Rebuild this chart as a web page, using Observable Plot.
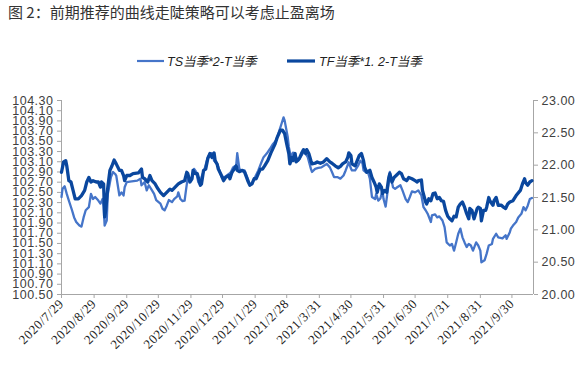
<!DOCTYPE html>
<html><head><meta charset="utf-8">
<script src="https://cdn.jsdelivr.net/npm/d3@7"></script>
<script src="https://cdn.jsdelivr.net/npm/@observablehq/plot@0.6"></script>
<style>
body{margin:0;background:#fff;width:585px;height:365px;position:relative;overflow:hidden;font-family:"Noto Sans CJK SC",sans-serif;}
#title{position:absolute;left:8px;top:1px;font-size:15px;color:#333;white-space:nowrap;}
.leg{position:absolute;top:51px;font-size:12.5px;font-style:italic;color:#222;display:flex;align-items:center;white-space:nowrap;font-family:"Liberation Sans","Noto Sans CJK SC",sans-serif;}
#chart{position:absolute;left:0;top:80px;}
</style></head><body>
<div id="title">图 2：前期推荐的曲线走陡策略可以考虑止盈离场</div>
<div class="leg" style="left:137px"><svg width="27" height="6"><line x1="0" x2="27" y1="3" y2="3" stroke="#4575c9" stroke-width="2.2"/></svg><span style="margin-left:3px">TS当季*2-T当季</span></div>
<div class="leg" style="left:287px"><svg width="28" height="6"><line x1="0" x2="28" y1="3" y2="3" stroke="#0a479e" stroke-width="3.2"/></svg><span style="margin-left:4px">TF当季*1. 2-T当季</span></div>
<div id="chart"></div>
<script>
const seriesNames = ["TS当季*2-T当季", "TF当季*1. 2-T当季"];
const xTickLabels = ["2020/7/29","2020/8/29","2020/9/29","2020/10/29","2020/11/29","2020/12/29","2021/1/29","2021/2/28","2021/3/31","2021/4/30","2021/5/31","2021/6/30","2021/7/31","2021/8/31","2021/9/30"];
const leftTicks = [100.5,100.7,100.9,101.1,101.3,101.5,101.7,101.9,102.1,102.3,102.5,102.7,102.9,103.1,103.3,103.5,103.7,103.9,104.1,104.3];
const rightTicks = [20,20.5,21,21.5,22,22.5,23];

const tsDates = ["2020-07-29","2020-07-30","2020-08-01","2020-08-03","2020-08-05","2020-08-08","2020-08-10","2020-08-12","2020-08-15","2020-08-17","2020-08-19","2020-08-21","2020-08-24","2020-08-26","2020-08-28","2020-08-30","2020-09-02","2020-09-04","2020-09-06","2020-09-07","2020-09-08","2020-09-10","2020-09-11","2020-09-14","2020-09-16","2020-09-18","2020-09-19","2020-09-22","2020-09-24","2020-09-26","2020-09-27","2020-09-29","2020-10-02","2020-10-09","2020-10-12","2020-10-13","2020-10-16","2020-10-18","2020-10-20","2020-10-23","2020-10-25","2020-10-27","2020-10-31","2020-11-02","2020-11-04","2020-11-06","2020-11-08","2020-11-11","2020-11-13","2020-11-16","2020-11-17","2020-11-19","2020-11-21","2020-11-23","2020-11-24","2020-11-26","2020-11-28","2020-11-30","2020-12-02","2020-12-04","2020-12-06","2020-12-08","2020-12-09","2020-12-12","2020-12-15","2020-12-17","2020-12-19","2020-12-21","2020-12-24","2020-12-26","2020-12-28","2020-12-31","2021-01-04","2021-01-06","2021-01-08","2021-01-11","2021-01-12","2021-01-14","2021-01-16","2021-01-19","2021-01-22","2021-01-24","2021-01-26","2021-01-29","2021-02-01","2021-02-04","2021-02-06","2021-02-09","2021-02-12","2021-02-15","2021-02-18","2021-02-21","2021-02-23","2021-02-25","2021-02-26","2021-03-01","2021-03-02","2021-03-04","2021-03-06","2021-03-09","2021-03-11","2021-03-12","2021-03-14","2021-03-16","2021-03-18","2021-03-20","2021-03-23","2021-03-24","2021-03-27","2021-03-30","2021-04-02","2021-04-05","2021-04-07","2021-04-10","2021-04-12","2021-04-14","2021-04-17","2021-04-20","2021-04-23","2021-04-25","2021-04-28","2021-04-30","2021-05-01","2021-05-04","2021-05-07","2021-05-09","2021-05-11","2021-05-12","2021-05-14","2021-05-16","2021-05-18","2021-05-20","2021-05-23","2021-05-24","2021-05-26","2021-05-28","2021-05-30","2021-05-31","2021-06-02","2021-06-04","2021-06-06","2021-06-09","2021-06-11","2021-06-13","2021-06-16","2021-06-18","2021-06-21","2021-06-23","2021-06-25","2021-06-27","2021-06-30","2021-07-03","2021-07-06","2021-07-08","2021-07-10","2021-07-12","2021-07-15","2021-07-16","2021-07-19","2021-07-21","2021-07-23","2021-07-26","2021-07-28","2021-07-30","2021-08-02","2021-08-04","2021-08-06","2021-08-08","2021-08-10","2021-08-12","2021-08-14","2021-08-16","2021-08-18","2021-08-20","2021-08-22","2021-08-24","2021-08-27","2021-08-29","2021-08-31","2021-09-01","2021-09-04","2021-09-06","2021-09-08","2021-09-11","2021-09-12","2021-09-15","2021-09-17","2021-09-19","2021-09-21","2021-09-24","2021-09-25","2021-09-28","2021-09-29","2021-10-01","2021-10-04","2021-10-06","2021-10-09","2021-10-11","2021-10-13","2021-10-15","2021-10-17","2021-10-19"];
const tsValues = [102.41,102.57,102.62,102.47,102.34,102.15,102.01,101.92,101.85,101.83,102.01,102.15,102.21,102.47,102.37,102.41,102.34,102.28,102.37,102.22,101.85,101.95,102.47,102.80,102.90,102.86,102.83,102.44,102.50,102.44,102.60,102.70,102.71,102.73,102.77,102.64,102.70,102.54,102.64,102.54,102.47,102.35,102.28,102.18,102.15,102.24,102.35,102.31,102.37,102.42,102.50,102.37,102.33,102.34,102.50,102.80,102.73,102.80,102.96,102.90,102.70,102.64,102.80,102.96,103.19,103.26,103.27,103.12,103.06,102.93,102.81,102.80,102.86,102.90,102.99,103.03,103.27,102.96,102.93,102.93,102.77,102.65,102.67,102.80,102.93,103.09,103.19,103.26,103.35,103.45,103.52,103.71,103.84,103.97,103.91,103.58,103.39,103.19,103.28,103.19,103.12,103.16,103.22,103.29,103.26,103.19,102.96,102.90,102.96,102.98,102.99,103.03,103.06,102.99,102.90,102.80,102.80,102.77,102.83,102.93,103.09,102.97,102.93,102.93,103.03,103.12,103.07,102.93,102.90,102.91,102.77,102.41,102.37,102.47,102.34,102.38,102.54,102.37,102.22,102.54,102.90,102.60,102.57,102.60,102.64,102.54,102.37,102.31,102.41,102.52,102.50,102.54,102.44,102.21,102.15,102.08,101.92,102.05,102.07,102.01,102.03,101.95,101.82,101.52,101.46,101.49,101.36,101.52,101.69,101.79,101.62,101.52,101.43,101.49,101.46,101.36,101.52,101.46,101.36,101.13,101.17,101.30,101.46,101.49,101.59,101.69,101.62,101.61,101.60,101.66,101.59,101.72,101.79,101.85,101.92,102.01,102.08,102.21,102.15,102.24,102.37,102.39];

const tfDates = ["2020-07-29","2020-07-31","2020-08-02","2020-08-03","2020-08-05","2020-08-07","2020-08-09","2020-08-11","2020-08-14","2020-08-17","2020-08-20","2020-08-22","2020-08-24","2020-08-26","2020-08-28","2020-08-31","2020-09-02","2020-09-04","2020-09-05","2020-09-07","2020-09-08","2020-09-09","2020-09-11","2020-09-13","2020-09-15","2020-09-17","2020-09-19","2020-09-22","2020-09-24","2020-09-26","2020-09-27","2020-09-29","2020-10-02","2020-10-05","2020-10-10","2020-10-13","2020-10-14","2020-10-16","2020-10-19","2020-10-21","2020-10-23","2020-10-26","2020-10-28","2020-10-31","2020-11-03","2020-11-06","2020-11-09","2020-11-11","2020-11-14","2020-11-17","2020-11-20","2020-11-23","2020-11-25","2020-11-26","2020-11-28","2020-11-30","2020-12-01","2020-12-03","2020-12-05","2020-12-08","2020-12-09","2020-12-11","2020-12-13","2020-12-15","2020-12-17","2020-12-19","2020-12-21","2020-12-22","2020-12-24","2020-12-25","2020-12-28","2020-12-30","2021-01-01","2021-01-04","2021-01-05","2021-01-07","2021-01-09","2021-01-11","2021-01-12","2021-01-14","2021-01-17","2021-01-19","2021-01-22","2021-01-24","2021-01-26","2021-01-28","2021-01-30","2021-02-01","2021-02-03","2021-02-05","2021-02-07","2021-02-10","2021-02-13","2021-02-17","2021-02-19","2021-02-22","2021-02-24","2021-02-26","2021-02-28","2021-03-02","2021-03-03","2021-03-05","2021-03-06","2021-03-08","2021-03-09","2021-03-12","2021-03-14","2021-03-16","2021-03-18","2021-03-19","2021-03-21","2021-03-23","2021-03-24","2021-03-27","2021-03-29","2021-04-01","2021-04-04","2021-04-07","2021-04-10","2021-04-12","2021-04-15","2021-04-18","2021-04-20","2021-04-22","2021-04-25","2021-04-27","2021-04-28","2021-04-30","2021-05-01","2021-05-04","2021-05-06","2021-05-08","2021-05-10","2021-05-12","2021-05-13","2021-05-15","2021-05-18","2021-05-20","2021-05-22","2021-05-24","2021-05-25","2021-05-27","2021-05-29","2021-05-30","2021-06-01","2021-06-03","2021-06-05","2021-06-06","2021-06-08","2021-06-10","2021-06-12","2021-06-15","2021-06-17","2021-06-19","2021-06-22","2021-06-24","2021-06-27","2021-06-30","2021-07-02","2021-07-03","2021-07-06","2021-07-07","2021-07-10","2021-07-11","2021-07-13","2021-07-15","2021-07-17","2021-07-19","2021-07-21","2021-07-23","2021-07-25","2021-07-27","2021-07-29","2021-07-31","2021-08-02","2021-08-04","2021-08-06","2021-08-08","2021-08-10","2021-08-12","2021-08-14","2021-08-16","2021-08-18","2021-08-20","2021-08-21","2021-08-23","2021-08-25","2021-08-28","2021-08-29","2021-08-31","2021-09-01","2021-09-03","2021-09-05","2021-09-06","2021-09-08","2021-09-09","2021-09-12","2021-09-13","2021-09-15","2021-09-17","2021-09-20","2021-09-22","2021-09-24","2021-09-26","2021-09-28","2021-10-01","2021-10-04","2021-10-08","2021-10-10","2021-10-12","2021-10-13","2021-10-15","2021-10-17","2021-10-19"];
const tfValues = [21.89,22.05,22.07,21.99,21.76,21.74,21.61,21.48,21.48,21.53,21.61,21.74,21.81,21.74,21.76,21.74,21.74,21.66,21.74,21.71,21.20,21.30,21.66,21.92,21.99,22.08,22.02,21.92,21.92,21.84,21.76,21.84,21.84,21.87,21.88,21.94,21.81,21.79,21.74,21.84,21.76,21.71,21.65,21.58,21.53,21.58,21.63,21.61,21.66,21.71,21.74,21.76,21.89,21.87,21.74,21.79,21.92,21.87,21.87,21.69,21.71,21.92,21.94,22.10,22.18,22.12,22.19,22.07,22.01,21.94,21.84,21.76,21.81,21.84,21.79,21.89,21.94,21.99,21.92,21.90,21.92,21.89,21.76,21.69,21.71,21.79,21.79,21.87,21.94,21.94,21.99,22.07,22.19,22.33,22.43,22.54,22.54,22.49,22.33,22.18,22.02,22.12,22.07,22.18,22.05,22.10,22.18,22.24,22.18,22.24,22.18,22.07,22.02,22.03,22.05,22.03,22.05,22.10,22.05,22.03,21.99,21.96,21.98,22.02,22.05,22.12,22.19,22.15,22.02,21.99,22.07,22.15,22.18,22.07,21.97,21.89,21.92,21.81,21.74,21.66,21.58,21.71,21.66,21.56,21.61,21.58,21.81,21.87,21.74,21.81,21.84,21.89,21.87,21.79,21.76,21.81,21.79,21.76,21.74,21.76,21.77,21.61,21.43,21.40,21.48,21.45,21.56,21.57,21.48,21.50,21.45,21.44,21.30,21.21,21.17,21.14,21.21,21.20,21.35,21.40,21.43,21.35,21.25,21.17,21.33,21.30,21.17,21.33,21.35,21.33,21.14,21.30,21.30,21.35,21.50,21.45,21.38,21.45,21.50,21.38,21.38,21.35,21.33,21.40,21.43,21.45,21.53,21.61,21.71,21.79,21.73,21.69,21.74,21.76];

const L0 = leftTicks[0], L1 = leftTicks[leftTicks.length-1];
const R0 = rightTicks[0], R1 = rightTicks[rightTicks.length-1];
const toLeft = v => L0 + (v - R0) * (L1 - L0) / (R1 - R0);
const toRight = v => R0 + (v - L0) * (R1 - R0) / (L1 - L0);
const parseISO = s => new Date(s + "T00:00:00Z");
const parseSlash = s => { const [y,m,d] = s.split("/").map(Number); return new Date(Date.UTC(y, m-1, d)); };

const ts = tsDates.map((d,i) => ({date: parseISO(d), v: tsValues[i], s: seriesNames[0]}));
const tf = tfDates.map((d,i) => ({date: parseISO(d), v: toLeft(tfValues[i]), s: seriesNames[1]}));
const xTicks = xTickLabels.map(parseSlash);
const fmtDate = d => `${d.getUTCFullYear()}/${d.getUTCMonth()+1}/${d.getUTCDate()}`;
const xDomain = [parseISO("2020-07-29"), new Date(Date.UTC(2021, 9, 20, 12))];
const axisGray = "#a6a6a6";

const chart = Plot.plot({
  width: 585, height: 285,
  marginLeft: 61, marginRight: 52, marginTop: 20, marginBottom: 71,
  x: {type: "utc", domain: xDomain},
  y: {domain: [L0, L1]},
  style: {fontFamily: "'Liberation Sans', Arial, sans-serif", fontSize: "12.5px", background: "#fff", letterSpacing: "0.5px"},
  marks: [
    Plot.axisY(leftTicks, {anchor: "left", tickFormat: d => d.toFixed(2), tickSize: 4, tickPadding: 4, stroke: axisGray, fill: "#404040", label: null}),
    Plot.axisY(rightTicks.map(toLeft), {anchor: "right", tickFormat: d => toRight(d).toFixed(2), tickSize: 4, tickPadding: 4, stroke: axisGray, fill: "#404040", label: null}),
    Plot.axisX(xTicks, {anchor: "bottom", tickFormat: fmtDate, tickRotate: -45, tickSize: 4, tickPadding: 3, stroke: axisGray, fill: "#222", fontFamily: "'Liberation Serif', 'Times New Roman', serif", fontSize: 13, label: null}),
    Plot.ruleX([xDomain[0]], {stroke: axisGray}),
    Plot.ruleX([xDomain[1]], {stroke: axisGray}),
    Plot.ruleY([L0], {stroke: axisGray}),
    Plot.line(ts, {x: "date", y: "v", stroke: "#4575c9", strokeWidth: 2.3}),
    Plot.line(tf, {x: "date", y: "v", stroke: "#0a479e", strokeWidth: 3.3})
  ]
});
document.getElementById("chart").appendChild(chart);
</script>
</body></html>
